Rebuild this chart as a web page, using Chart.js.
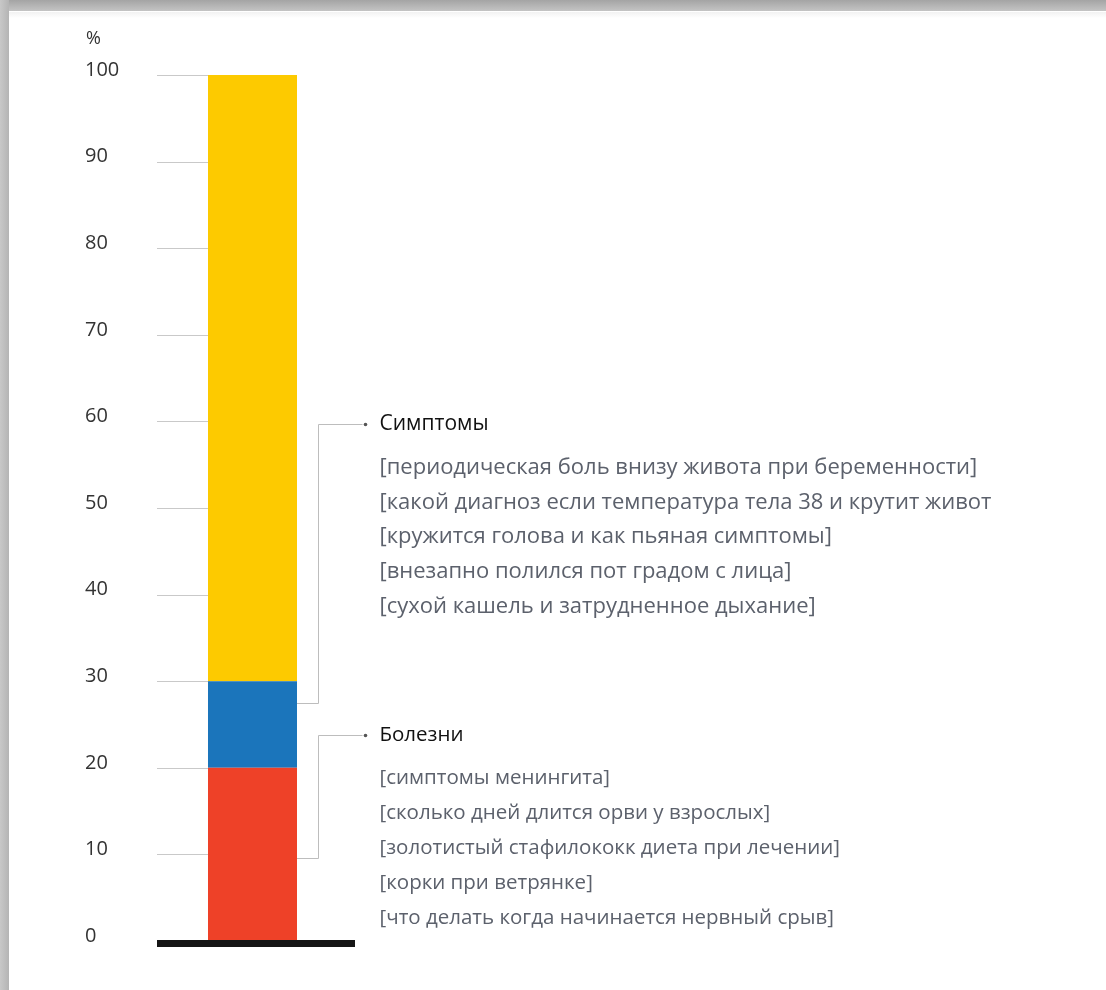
<!DOCTYPE html>
<html>
<head>
<meta charset="utf-8">
<script src="https://cdn.jsdelivr.net/npm/chart.js@4"></script>
<style>
html,body{margin:0;padding:0;background:#fff;}
#wrap{position:relative;width:1106px;height:990px;overflow:hidden;}
#topband{position:absolute;left:0;top:0;width:1106px;height:11px;background:linear-gradient(#a4a4a4,#c4c4c4);}
#topband2{position:absolute;left:0;top:12px;width:1106px;height:6px;background:linear-gradient(#f2f2f2,#fff);}
#leftband{position:absolute;left:0;top:0;width:9px;height:990px;background:linear-gradient(to right,#c8c8c8,#b4b4b4);}
canvas{position:absolute;left:0;top:0;}
</style>
</head>
<body>
<div id="wrap">
<div id="topband"></div><div id="topband2"></div><div id="leftband"></div>
<canvas id="c" width="1106" height="990"></canvas>
</div>
<script>
const categories = [''];
const seriesNames = ['Болезни', 'Симптомы', 'Прочее'];
const diseases = [20];
const symptoms = [10];
const other = [70];
const seriesColors = ['#ee4128', '#1b75bb', '#fdca00'];
const yTicks = [0, 10, 20, 30, 40, 50, 60, 70, 80, 90, 100];
const unitLabel = '%';

const symptomTitle = 'Симптомы';
const symptomQueries = [
  '[периодическая боль внизу живота при беременности]',
  '[какой диагноз если температура тела 38 и крутит живот',
  '[кружится голова и как пьяная симптомы]',
  '[внезапно полился пот градом с лица]',
  '[сухой кашель и затрудненное дыхание]'
];
const diseaseTitle = 'Болезни';
const diseaseQueries = [
  '[симптомы менингита]',
  '[сколько дней длится орви у взрослых]',
  '[золотистый стафилококк диета при лечении]',
  '[корки при ветрянке]',
  '[что делать когда начинается нервный срыв]'
];
// annotation anchors in value space: [connector value on bar, title value]
const symptomAnchor = [27.5, 59.7];
const diseaseAnchor = [9.6, 23.8];

const FONT = '"Open Sans", sans-serif';

const overlay = {
  id: 'overlay',
  beforeDatasetsDraw(chart) {
    const ctx = chart.ctx, y = chart.scales.y, ca = chart.chartArea;
    const bar = chart.getDatasetMeta(0).data[0];
    const barLeft = bar.x - bar.width / 2;
    ctx.save();
    ctx.strokeStyle = '#c9c9c9';
    ctx.lineWidth = 1;
    yTicks.forEach(v => {
      if (v === 0) return;
      const py = Math.round(y.getPixelForValue(v)) + 0.5;
      ctx.beginPath();
      ctx.moveTo(ca.left, py);
      ctx.lineTo(barLeft + 2, py);
      ctx.stroke();
    });
    ctx.restore();
  },
  afterDatasetsDraw(chart) {
    const ctx = chart.ctx, y = chart.scales.y, ca = chart.chartArea;
    const bar = chart.getDatasetMeta(0).data[0];
    const barRight = bar.x + bar.width / 2;
    ctx.save();
    // baseline
    ctx.fillStyle = '#151515';
    ctx.fillRect(ca.left, y.getPixelForValue(0) - 1, (barRight - ca.left) + 58, 7);
    // unit label
    ctx.fillStyle = '#333';
    ctx.font = '18px ' + FONT;
    ctx.textBaseline = 'middle';
    ctx.textAlign = 'left';
    ctx.fillText(unitLabel, 86, 39);

    function annot(anchor, title, items, titleSize, itemSize) {
      const py1 = Math.round(y.getPixelForValue(anchor[0])) + 0.5;
      const py2 = Math.round(y.getPixelForValue(anchor[1])) + 0.5;
      const vx = Math.round(barRight + 21) + 0.5;
      ctx.strokeStyle = '#bdbdbd';
      ctx.lineWidth = 1;
      ctx.beginPath();
      ctx.moveTo(barRight, py1);
      ctx.lineTo(vx, py1);
      ctx.lineTo(vx, py2);
      ctx.lineTo(vx + 44, py2);
      ctx.stroke();
      ctx.fillStyle = '#555';
      ctx.beginPath();
      ctx.arc(vx + 47, py2, 1.8, 0, Math.PI * 2);
      ctx.fill();
      const tx = vx + 61;
      ctx.textAlign = 'left';
      ctx.textBaseline = 'middle';
      ctx.fillStyle = '#111';
      ctx.font = '500 ' + titleSize + 'px ' + FONT;
      ctx.fillText(title, tx, py2);
      ctx.fillStyle = '#5c616c';
      ctx.font = itemSize + 'px ' + FONT;
      items.forEach((t, i) => {
        ctx.fillText(t, tx, py2 + 43 + i * 34.8);
      });
    }
    annot(symptomAnchor, symptomTitle, symptomQueries, 21, 22);
    annot(diseaseAnchor, diseaseTitle, diseaseQueries, 20.5, 20.5);
    ctx.restore();
  }
};

new Chart(document.getElementById('c'), {
  type: 'bar',
  data: {
    labels: categories,
    datasets: [
      { label: seriesNames[0], data: diseases, backgroundColor: seriesColors[0] },
      { label: seriesNames[1], data: symptoms, backgroundColor: seriesColors[1] },
      { label: seriesNames[2], data: other, backgroundColor: seriesColors[2] }
    ]
  },
  options: {
    responsive: false,
    animation: false,
    devicePixelRatio: 1,
    layout: { padding: { left: 85, top: 75, right: 758, bottom: 49 } },
    datasets: { bar: { categoryPercentage: 1, barPercentage: 0.466, borderWidth: 0 } },
    plugins: { legend: { display: false }, tooltip: { enabled: false } },
    scales: {
      x: { stacked: true, display: false },
      y: {
        stacked: true,
        min: 0, max: 100,
        afterBuildTicks(scale) { scale.ticks = yTicks.map(v => ({ value: v })); },
        afterFit(scale) { scale.width = 72; },
        grid: { display: false },
        border: { display: false },
        ticks: {
          crossAlign: 'far',
          padding: 0,
          labelOffset: -5,
          color: '#333',
          font: { family: 'Open Sans', size: 20 }
        }
      }
    }
  },
  plugins: [overlay]
});
</script>
</body>
</html>
